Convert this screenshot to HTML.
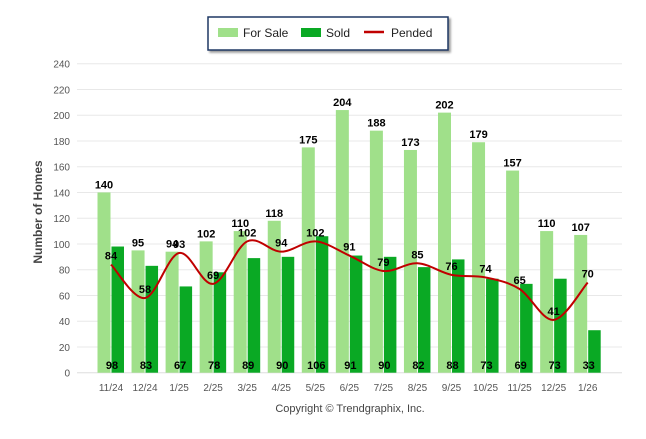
<!DOCTYPE html>
<html><head><meta charset="utf-8"><style>
body{margin:0;background:#fff;width:646px;height:434px;overflow:hidden}
svg{font-family:"Liberation Sans",sans-serif}
</style></head><body>
<svg id="c" width="646" height="434">
<g>
<rect x="208" y="17" width="240" height="33" fill="#fff" stroke="#1f3864" stroke-width="1.5" style="filter:drop-shadow(2px 2px 1px #999)"/>
<rect x="218" y="28" width="20" height="9" fill="#a0e08a"/>
<text x="243" y="37" font-size="12" fill="#222">For Sale</text>
<rect x="301" y="28" width="20" height="9" fill="#0aa924"/>
<text x="326" y="37" font-size="12" fill="#222">Sold</text>
<line x1="364" y1="32" x2="384" y2="32" stroke="#c00000" stroke-width="2.5"/>
<text x="391" y="37" font-size="12" fill="#222">Pended</text>
</g>
<text transform="translate(42,212) rotate(-90)" text-anchor="middle" font-size="12" font-weight="bold" fill="#444">Number of Homes</text>
<text x="350" y="412" text-anchor="middle" font-size="11" fill="#444">Copyright © Trendgraphix, Inc.</text>
<g id="grid"></g><g id="bars"></g><g id="line"></g><g id="labels"></g>
</svg>
<script>
const categories=["11/24","12/24","1/25","2/25","3/25","4/25","5/25","6/25","7/25","8/25","9/25","10/25","11/25","12/25","1/26"];
const forSale=[140,95,94,102,110,118,175,204,188,173,202,179,157,110,107];
const sold=[98,83,67,78,89,90,106,91,90,82,88,73,69,73,33];
const pended=[84,58,93,69,102,94,102,91,79,85,76,74,65,41,70];
const yTicks=[0,20,40,60,80,100,120,140,160,180,200,220,240];
const NS="http://www.w3.org/2000/svg";
const y=v=>372.7-v*1.2875;
const x=i=>111+i*34.05;
function mk(p,t,a){const e=document.createElementNS(NS,t);for(const k in a)e.setAttribute(k,a[k]);document.getElementById(p).appendChild(e);return e;}
yTicks.forEach(t=>{
 const l=mk('grid','line',{x1:77,x2:622,y1:y(t),y2:y(t),stroke:t?'#e8e8e8':'#ddd'});
 
 
 const tx=mk('grid','text',{x:70,y:y(t)+4,'text-anchor':'end','font-size':'10',fill:'#555'});tx.textContent=t;
 
 
});
categories.forEach((c,i)=>{
 const tx=mk('grid','text',{x:x(i),y:391,'text-anchor':'middle','font-size':'10',fill:'#555'});tx.textContent=c;
 
 
 const a=mk('bars','rect',{x:x(i)-13.5,y:y(forSale[i]),width:13,height:y(0)-y(forSale[i]),fill:'#a0e08a'});
 
 
 const b=mk('bars','rect',{x:x(i)+0.5,y:y(sold[i]),width:12.5,height:y(0)-y(sold[i]),fill:'#0aa924'});
 
 
 const t1=mk('labels','text',{x:x(i)-7,y:y(forSale[i])-4,'text-anchor':'middle','font-size':'11','font-weight':'bold'});t1.textContent=forSale[i];
 
 
 const t2=mk('labels','text',{x:x(i)+1,y:369,'text-anchor':'middle','font-size':'11','font-weight':'bold'});t2.textContent=sold[i];
 
 
 const t3=mk('labels','text',{x:x(i),y:y(pended[i])-5,'text-anchor':'middle','font-size':'11','font-weight':'bold'});t3.textContent=pended[i];
 
 
});
const P=pended.map((v,i)=>[x(i),y(v)]);
let d='M'+P[0][0]+','+P[0][1];
for(let i=0;i<P.length-1;i++){
 const p0=P[Math.max(0,i-1)],p1=P[i],p2=P[i+1],p3=P[Math.min(P.length-1,i+2)];
 const c1=[p1[0]+(p2[0]-p0[0])/6,p1[1]+(p2[1]-p0[1])/6],c2=[p2[0]-(p3[0]-p1[0])/6,p2[1]-(p3[1]-p1[1])/6];
 d+=` C${c1[0]},${c1[1]} ${c2[0]},${c2[1]} ${p2[0]},${p2[1]}`;
}
const ln=mk('line','path',{d:d,fill:'none',stroke:'#c00000','stroke-width':2});


</script>
</body></html>
